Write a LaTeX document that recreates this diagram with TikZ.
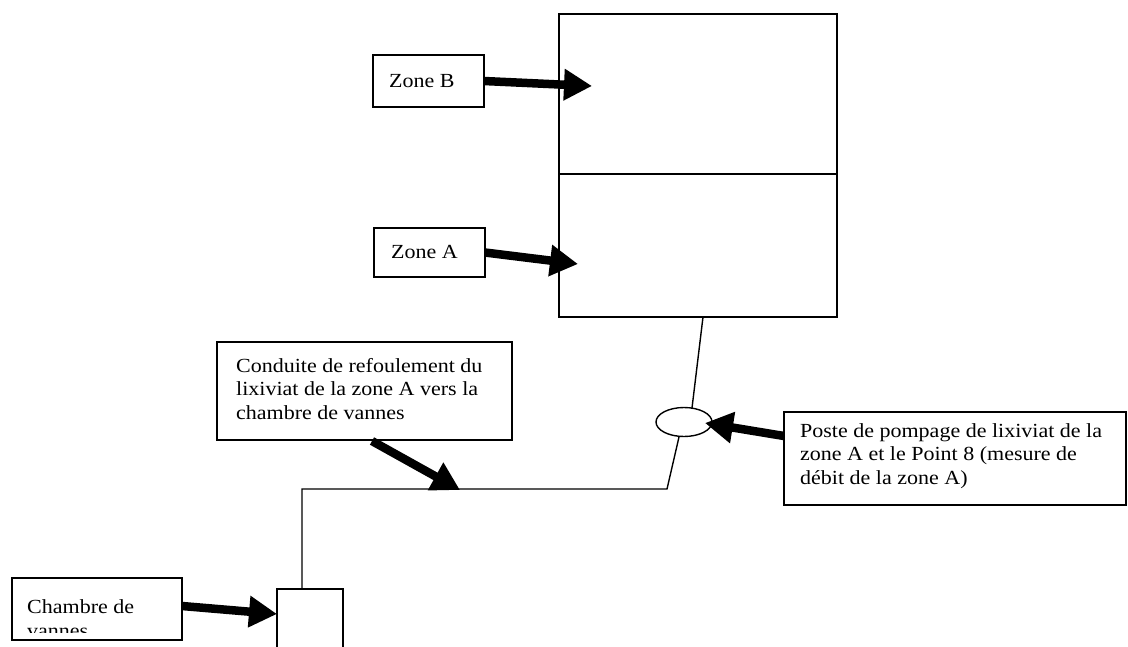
\documentclass[tikz,border=0pt]{standalone}
\usepackage{fontspec}
\setmainfont{Liberation Serif}[FakeStretch=1.1]
\usetikzlibrary{arrows.meta,shapes.geometric}
\begin{document}
\begin{tikzpicture}[x=1pt,y=-1pt,
  pipe/.style={line width=1.4pt},
  box/.style={draw, line width=1.4pt, inner sep=0pt, outer sep=0pt, anchor=north west},
  bigarrow/.style={line width=8.5pt, -{Triangle[length=28pt,width=30pt]}},
  lbl/.style={anchor=base west, inner sep=0pt, font=\fontsize{20}{23.3}\selectfont, align=left}
]
\useasboundingbox[fill=white] (0,0) rectangle (1128,646);

% tank with two zones
\node[box, minimum width=278pt, minimum height=160pt] (zoneBtank) at (559,14) {};
\node[box, minimum width=278pt, minimum height=143pt] (zoneAtank) at (559,174) {};

% label boxes (text nodes anchored at the baseline of their last line)
\node[box, minimum width=111pt, minimum height=52pt] (zb) at (373,55) {};
\node[lbl] (zbt) at (389,87) {Zone B};
\node[box, minimum width=111pt, minimum height=49pt] (za) at (374,228) {};
\node[lbl] (zat) at (391,258) {Zone A};
\node[box, minimum width=295pt, minimum height=98pt] (cd) at (217,342) {};
\node[lbl] (cdt) at (236,419) {Conduite de refoulement du\\lixiviat de la zone A vers la\\chambre de vannes};
\node[box, minimum width=342pt, minimum height=93pt] (pp) at (784,412) {};
\node[lbl] (ppt) at (800,484) {Poste de pompage de lixiviat de la\\zone A et le Point 8 (mesure de\\débit de la zone A)};
\node[box, minimum width=170pt, minimum height=62pt] (ch) at (12,578) {};
\begin{scope}
\clip (12,578) rectangle (182,632);
\node[lbl] (cht) at (27,637) {Chambre de\\vannes};
\end{scope}

% pump and valve chamber
\node[draw, ellipse, line width=1.4pt, minimum width=56pt, minimum height=29pt, inner sep=0pt] (pump) at (684,422) {};
\node[box, minimum width=66pt, minimum height=80pt] (vc) at (277,589) {};

% pipe
\coordinate (p1) at (703,317);
\coordinate (p2) at (692,408);
\coordinate (p3) at (679,437);
\coordinate (p4) at (667,489);
\coordinate (p5) at (302,489);
\coordinate (p6) at (302,589);
\draw[pipe] (p1) -- (p2);
\draw[pipe] (p3) -- (p4) -- (p5) -- (p6);

% arrows
\coordinate (tb) at (592,86);
\coordinate (ta) at (578,264);
\coordinate (cdtail) at (372,441);
\coordinate (tc) at (460,490);
\coordinate (pptail) at (784,436);
\coordinate (tp) at (705,423);
\coordinate (chtail) at (182,606);
\coordinate (tv) at (277,614);
\draw[bigarrow] (zb.east) -- (tb);
\draw[bigarrow] (za.east) -- (ta);
\draw[bigarrow] (cdtail) -- (tc);
\draw[bigarrow] (pptail) -- (tp);
\draw[bigarrow] (chtail) -- (tv);
\end{tikzpicture}
\end{document}
